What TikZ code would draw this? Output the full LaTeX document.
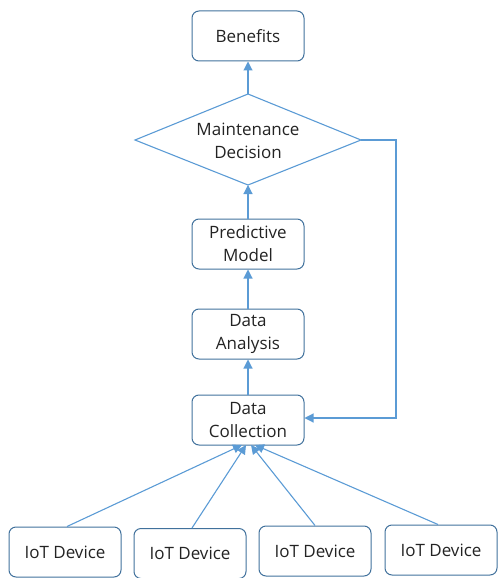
\documentclass[tikz,border=0pt]{standalone}
\usepackage{fontspec}
\setmainfont{Open Sans}
\usetikzlibrary{arrows.meta}
\definecolor{boxc}{RGB}{65,113,156}
\definecolor{arrc}{RGB}{91,155,213}
\definecolor{txtc}{RGB}{35,35,35}
\tikzset{
  lbl/.style={text=txtc, align=center, font=\fontsize{17}{23}\selectfont, inner sep=0pt},
  box/.style={lbl, draw=boxc, line width=1pt, rounded corners=7pt, minimum width=112pt, minimum height=50pt},
  arr/.style={draw=arrc, line width=1.1pt, -{Triangle[length=9pt,width=9pt]}},
}
\begin{document}
\begin{tikzpicture}[x=1pt,y=-1pt]
\useasboundingbox (0,0) rectangle (498,578);
\node[box] (ben) at (248,36) {Benefits};
\coordinate (dtop) at (248,94);
\coordinate (dbot) at (248,185);
\coordinate (dright) at (361,140);
\coordinate (dleft) at (135,140);
\draw[arrc, line width=1.1pt] (dleft) -- (dtop) -- (dright) -- (dbot) -- cycle;
\node[lbl] (dtext) at (248,141) {Maintenance\\Decision};
\node[box] (pm) at (248,244) {Predictive\\Model};
\node[box] (da) at (248,334) {Data\\Analysis};
\node[box] (dc) at (248,420) {Data\\Collection};
\node[box] (d1) at (65,552) {IoT Device};
\node[box] (d2) at (190,553.5) {IoT Device};
\node[box] (d3) at (315,551) {IoT Device};
\node[box] (d4) at (441,550) {IoT Device};
\coordinate (f1) at (396,140);
\coordinate (f2) at (396,418);
\draw[arr] (dtop) -- (ben);
\draw[arr] (pm) -- (dbot);
\draw[arr] (da) -- (pm);
\draw[arr] (dc) -- (da);
\draw[arr] (dright) -- (f1) -- (f2) -- (dc.east |- f2);
\draw[arr] (d1.north -| 67,0) -- (242,445);
\draw[arr] (d2.north -| 192,0) -- (246,445);
\draw[arr] (d3.north -| 315,0) -- (251,445);
\draw[arr] (d4.north -| 438,0) -- (255,445);
\end{tikzpicture}
\end{document}
